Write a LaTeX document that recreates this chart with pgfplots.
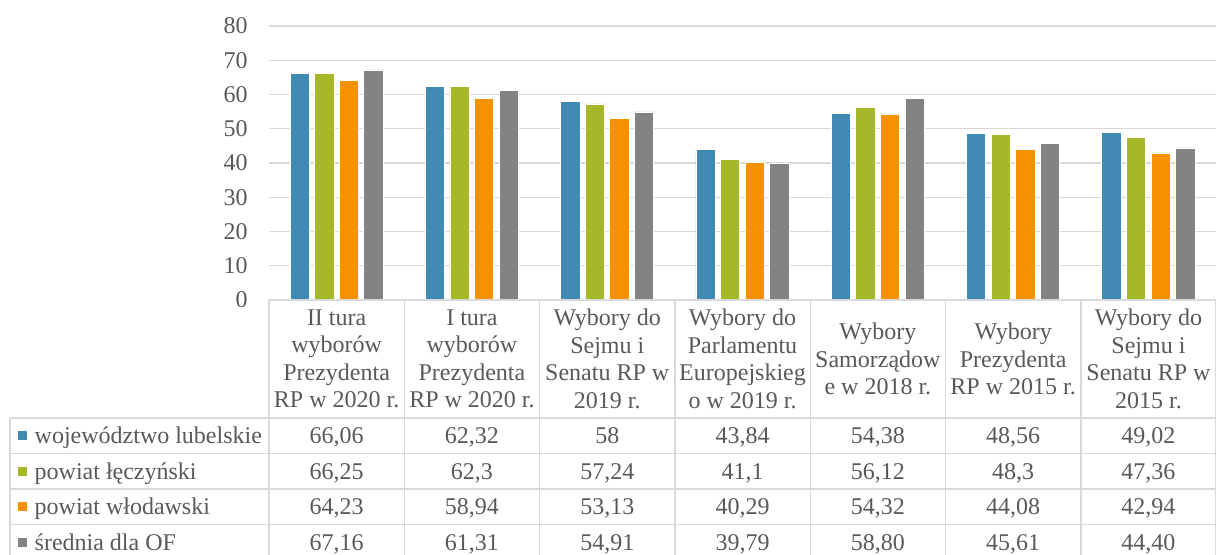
\documentclass[border=0pt]{standalone}
\usepackage{fontspec}
\setmainfont{Liberation Serif}
\usepackage{pgfplots}
\pgfplotsset{compat=1.18}
\definecolor{cblue}{HTML}{418AB3}
\definecolor{cgreen}{HTML}{A6B727}
\definecolor{corange}{HTML}{F69200}
\definecolor{cgray}{HTML}{838383}
\definecolor{txt}{HTML}{595959}
\definecolor{gridc}{HTML}{D9D9D9}
\newcommand\tf{\fontsize{12}{13.75}\selectfont}
\newcommand\tabrow[9]{%
  \fill[#2] (-125.35pt,#1-2.25pt) rectangle ++(4.5pt,4.5pt);
  \node[anchor=base west,inner sep=0pt,text=txt,font=\tf] at (-117.35pt,#1-3.9pt) {#3};
  \node[anchor=base,inner sep=0pt,text=txt,font=\tf] at (33.825pt,#1-3.9pt) {#4};
  \node[anchor=base,inner sep=0pt,text=txt,font=\tf] at (101.475pt,#1-3.9pt) {#5};
  \node[anchor=base,inner sep=0pt,text=txt,font=\tf] at (169.125pt,#1-3.9pt) {#6};
  \node[anchor=base,inner sep=0pt,text=txt,font=\tf] at (236.775pt,#1-3.9pt) {#7};
  \node[anchor=base,inner sep=0pt,text=txt,font=\tf] at (304.425pt,#1-3.9pt) {#8};
  \node[anchor=base,inner sep=0pt,text=txt,font=\tf] at (372.075pt,#1-3.9pt) {#9};
}
\newcommand\lastcell[2]{%
  \node[anchor=base,inner sep=0pt,text=txt,font=\tf] at (439.725pt,#1-3.9pt) {#2};
}
\begin{document}
\begin{tikzpicture}
\useasboundingbox (-134.5pt,-127pt) rectangle (473.5pt,150pt);
\begin{axis}[
  at={(0pt,0pt)}, anchor=south west,
  scale only axis, width=473.5pt, height=137pt,
  xmin=-0.5, xmax=6.5, ymin=0, ymax=80,
  ytick={0,10,...,80}, xtick=\empty,
  ymajorgrids, grid style={gridc, line width=0.6pt},
  axis line style={draw=none},
  major tick length=0pt,
  yticklabel style={text=txt, font=\tf, inner sep=0pt, xshift=-10.5pt},
  /pgf/number format/assume math mode=true,
  ybar=2.65pt, bar width=9.65pt,
  every axis plot/.append style={draw=white, line width=0.4pt},
  clip=false,
]
\addplot[fill=cblue] coordinates {(0,66.06) (1,62.32) (2,58) (3,43.84) (4,54.38) (5,48.56) (6,49.02)};
\addplot[fill=cgreen] coordinates {(0,66.25) (1,62.3) (2,57.24) (3,41.1) (4,56.12) (5,48.3) (6,47.36)};
\addplot[fill=corange] coordinates {(0,64.23) (1,58.94) (2,53.13) (3,40.29) (4,54.32) (5,44.08) (6,42.94)};
\addplot[fill=cgray] coordinates {(0,67.16) (1,61.31) (2,54.91) (3,39.79) (4,58.80) (5,45.61) (6,44.40)};
\end{axis}
% table lines
\draw[gridc, line width=0.7pt] (0pt,0pt) -- (473.5pt,0pt);
\foreach \k in {0,...,7} {
  \draw[gridc, line width=0.7pt] (\k*67.65pt,0pt) -- (\k*67.65pt,-132pt);
}
\draw[gridc, line width=0.7pt] (-129.5pt,-59pt) -- (-129.5pt,-132pt);
\foreach \yy in {-59,-76.75,-94.5,-112.25} {
  \draw[gridc, line width=0.7pt] (-129.5pt,\yy pt) -- (473.5pt,\yy pt);
}
% headers
\begin{scope}[every node/.style={align=center, text=txt, font=\tf, inner sep=0pt}]
\node at (33.825pt,-29.5pt) {II tura\\wyborów\\Prezydenta\\RP w 2020 r.};
\node at (101.475pt,-29.5pt) {I tura\\wyborów\\Prezydenta\\RP w 2020 r.};
\node at (169.125pt,-29.5pt) {Wybory do\\Sejmu i\\Senatu RP w\\2019 r.};
\node at (236.775pt,-29.5pt) {Wybory do\\Parlamentu\\Europejskieg\\o w 2019 r.};
\node at (304.425pt,-29.5pt) {Wybory\\Samorządow\\e w 2018 r.};
\node at (372.075pt,-29.5pt) {Wybory\\Prezydenta\\RP w 2015 r.};
\node at (439.725pt,-29.5pt) {Wybory do\\Sejmu i\\Senatu RP w\\2015 r.};
\end{scope}
\tabrow{-67.875pt}{cblue}{województwo lubelskie}{66,06}{62,32}{58}{43,84}{54,38}{48,56}
\lastcell{-67.875pt}{49,02}
\tabrow{-85.625pt}{cgreen}{powiat łęczyński}{66,25}{62,3}{57,24}{41,1}{56,12}{48,3}
\lastcell{-85.625pt}{47,36}
\tabrow{-103.375pt}{corange}{powiat włodawski}{64,23}{58,94}{53,13}{40,29}{54,32}{44,08}
\lastcell{-103.375pt}{42,94}
\tabrow{-121.125pt}{cgray}{średnia dla OF}{67,16}{61,31}{54,91}{39,79}{58,80}{45,61}
\lastcell{-121.125pt}{44,40}
\end{tikzpicture}
\end{document}
